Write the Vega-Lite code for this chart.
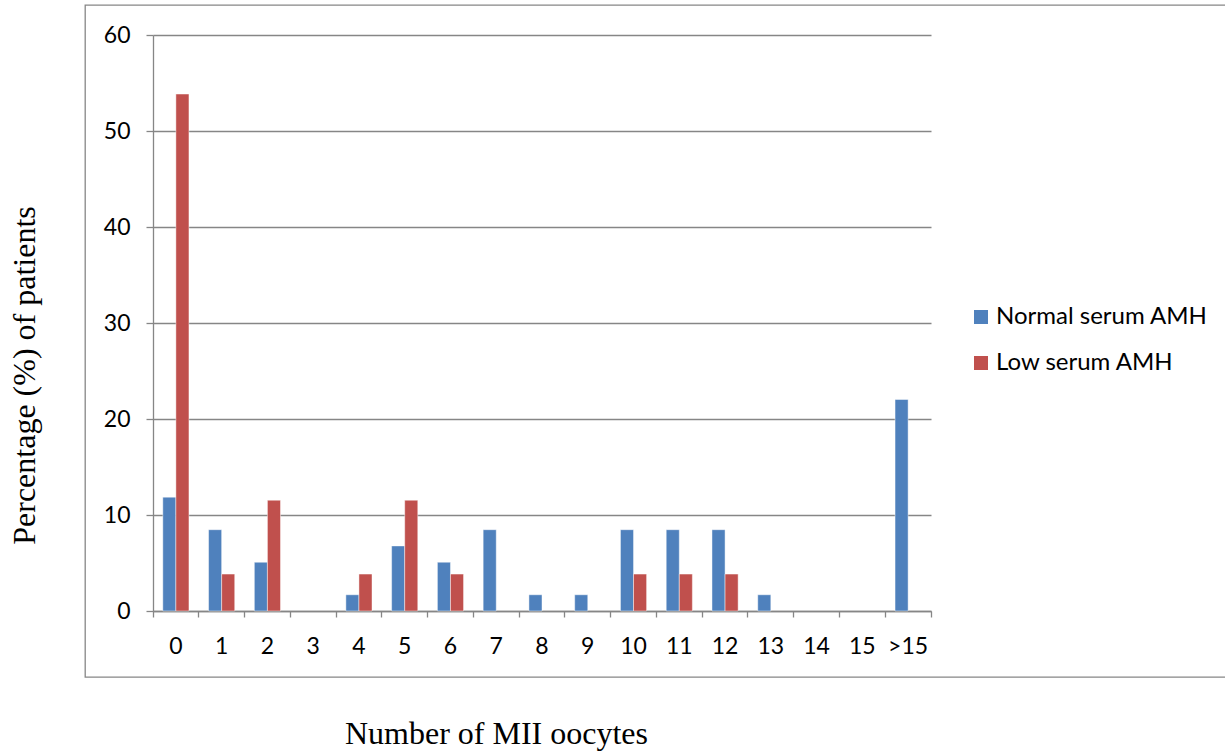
{
  "$schema": "https://vega.github.io/schema/vega-lite/v6.json",
  "width": 1145,
  "height": 672,
  "autosize": "none",
  "padding": {"left": 85, "top": 5, "right": 0, "bottom": 74},
  "background": "white",
  "config": {
    "view": {"stroke": "#868686", "strokeWidth": 1.3},
    "font": "Lato"
  },
  "data": {
    "values": [
      {"oocytes": "0", "group": "Normal serum AMH", "pct": 11.86},
      {"oocytes": "0", "group": "Low serum AMH", "pct": 53.85},
      {"oocytes": "1", "group": "Normal serum AMH", "pct": 8.47},
      {"oocytes": "1", "group": "Low serum AMH", "pct": 3.85},
      {"oocytes": "2", "group": "Normal serum AMH", "pct": 5.08},
      {"oocytes": "2", "group": "Low serum AMH", "pct": 11.54},
      {"oocytes": "3", "group": "Normal serum AMH", "pct": 0},
      {"oocytes": "3", "group": "Low serum AMH", "pct": 0},
      {"oocytes": "4", "group": "Normal serum AMH", "pct": 1.69},
      {"oocytes": "4", "group": "Low serum AMH", "pct": 3.85},
      {"oocytes": "5", "group": "Normal serum AMH", "pct": 6.78},
      {"oocytes": "5", "group": "Low serum AMH", "pct": 11.54},
      {"oocytes": "6", "group": "Normal serum AMH", "pct": 5.08},
      {"oocytes": "6", "group": "Low serum AMH", "pct": 3.85},
      {"oocytes": "7", "group": "Normal serum AMH", "pct": 8.47},
      {"oocytes": "7", "group": "Low serum AMH", "pct": 0},
      {"oocytes": "8", "group": "Normal serum AMH", "pct": 1.69},
      {"oocytes": "8", "group": "Low serum AMH", "pct": 0},
      {"oocytes": "9", "group": "Normal serum AMH", "pct": 1.69},
      {"oocytes": "9", "group": "Low serum AMH", "pct": 0},
      {"oocytes": "10", "group": "Normal serum AMH", "pct": 8.47},
      {"oocytes": "10", "group": "Low serum AMH", "pct": 3.85},
      {"oocytes": "11", "group": "Normal serum AMH", "pct": 8.47},
      {"oocytes": "11", "group": "Low serum AMH", "pct": 3.85},
      {"oocytes": "12", "group": "Normal serum AMH", "pct": 8.47},
      {"oocytes": "12", "group": "Low serum AMH", "pct": 3.85},
      {"oocytes": "13", "group": "Normal serum AMH", "pct": 1.69},
      {"oocytes": "13", "group": "Low serum AMH", "pct": 0},
      {"oocytes": "14", "group": "Normal serum AMH", "pct": 0},
      {"oocytes": "14", "group": "Low serum AMH", "pct": 0},
      {"oocytes": "15", "group": "Normal serum AMH", "pct": 0},
      {"oocytes": "15", "group": "Low serum AMH", "pct": 0},
      {"oocytes": ">15", "group": "Normal serum AMH", "pct": 22.03},
      {"oocytes": ">15", "group": "Low serum AMH", "pct": 0}
    ]
  },
  "transform": [{"filter": "datum.pct > 0"}],
  "mark": {"type": "bar", "stroke": "white", "strokeWidth": 1, "strokeOpacity": 0.45},
  "encoding": {
    "x": {
      "field": "oocytes",
      "type": "nominal",
      "sort": ["0", "1", "2", "3", "4", "5", "6", "7", "8", "9", "10", "11", "12", "13", "14", "15", ">15"],
      "scale": {
        "domain": ["0", "1", "2", "3", "4", "5", "6", "7", "8", "9", "10", "11", "12", "13", "14", "15", ">15"],
        "range": [68, 846],
        "paddingInner": 0,
        "paddingOuter": 0
      },
      "axis": {
        "title": "Number of MII oocytes",
        "titleFont": "Liberation Serif",
        "titleFontSize": 32,
        "titleFontWeight": "normal",
        "titleColor": "black",
        "titleX": 411,
        "titleY": 122,
        "titleAlign": "center",
        "titleBaseline": "middle",
        "offset": -66,
        "labelAngle": 0,
        "labelFontSize": 23,
        "labelColor": "black",
        "labelPadding": 18,
        "bandPosition": 1,
        "tickExtra": true,
        "tickSize": 6,
        "tickColor": "#868686",
        "tickWidth": 1.3,
        "domainColor": "#868686",
        "domainWidth": 1.3,
        "grid": false
      }
    },
    "xOffset": {
      "field": "group",
      "type": "nominal",
      "sort": ["Normal serum AMH", "Low serum AMH"],
      "scale": {"domain": ["Normal serum AMH", "Low serum AMH"], "paddingInner": 0, "paddingOuter": 0.75}
    },
    "y": {
      "field": "pct",
      "type": "quantitative",
      "scale": {"domain": [0, 60], "range": [606, 30], "nice": false},
      "axis": {
        "title": "Percentage (%) of patients",
        "titleFont": "Liberation Serif",
        "titleFontSize": 32,
        "titleFontWeight": "normal",
        "titleColor": "black",
        "titleAngle": -90,
        "titleX": -129,
        "titleY": 370,
        "titleAlign": "center",
        "titleBaseline": "middle",
        "offset": -68,
        "values": [0, 10, 20, 30, 40, 50, 60],
        "labelFontSize": 23,
        "labelColor": "black",
        "labelPadding": 16,
        "tickSize": 7,
        "tickColor": "#868686",
        "tickWidth": 1.3,
        "domainColor": "#868686",
        "domainWidth": 1.3,
        "grid": true,
        "gridColor": "#868686",
        "gridWidth": 1.3
      }
    },
    "color": {
      "field": "group",
      "type": "nominal",
      "sort": ["Normal serum AMH", "Low serum AMH"],
      "scale": {"domain": ["Normal serum AMH", "Low serum AMH"], "range": ["#4F81BD", "#C0504D"]},
      "legend": {
        "title": null,
        "orient": "none",
        "legendX": 884,
        "legendY": 300,
        "symbolType": "square",
        "symbolSize": 196,
        "symbolStrokeWidth": 0,
        "labelFontSize": 24,
        "labelColor": "black",
        "labelOffset": 3,
        "labelLimit": 0,
        "rowPadding": 22
      }
    }
  }
}
